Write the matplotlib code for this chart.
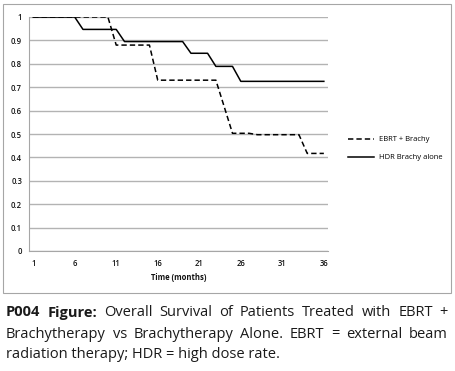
import numpy as np
import matplotlib
matplotlib.use("Agg")
import matplotlib.pyplot as plt
from matplotlib.patches import Rectangle

# data (survival fraction by month)
months = np.arange(1, 37)
ebrt = [1.0, 1.0, 1.0, 1.0, 1.0, 1.0, 1.0, 1.0, 1.0, 1.0,
        0.88, 0.88, 0.88, 0.88, 0.88,
        0.73, 0.73, 0.73, 0.73, 0.73, 0.73, 0.73, 0.73,
        0.617,
        0.503, 0.503, 0.503,
        0.497, 0.497, 0.497, 0.497, 0.497, 0.497,
        0.417, 0.417, 0.417]
hdr = [1.0, 1.0, 1.0, 1.0, 1.0, 1.0,
       0.947, 0.947, 0.947, 0.947, 0.947,
       0.895, 0.895, 0.895, 0.895, 0.895, 0.895, 0.895, 0.895,
       0.845, 0.845, 0.845,
       0.789, 0.789, 0.789,
       0.725, 0.725, 0.725, 0.725, 0.725, 0.725, 0.725, 0.725, 0.725, 0.725, 0.725]
xticks = [1, 6, 11, 16, 21, 26, 31, 36]
yticks = [0, 0.1, 0.2, 0.3, 0.4, 0.5, 0.6, 0.7, 0.8, 0.9, 1.0]
ylabels = ["0", "0.1", "0.2", "0.3", "0.4", "0.5", "0.6", "0.7", "0.8", "0.9", "1"]
labels = ["EBRT + Brachy", "HDR Brachy alone"]

W, H = 456, 371
fig = plt.figure(figsize=(W / 100, H / 100), dpi=100)
fig.patch.set_facecolor("white")

# chart area frame
fig.patches.append(Rectangle((3.5 / W, 1 - 293 / H), 447.5 / W, 289.5 / H,
                             transform=fig.transFigure, fill=False,
                             edgecolor="#a6a6a6", linewidth=0.8))

ax = fig.add_axes([29 / W, 120 / H, 299 / W, 234 / H])
ax.plot(months, ebrt, color="black", linewidth=1.1, linestyle=(0, (3.5, 2)), label=labels[0])
ax.plot(months, hdr, color="black", linewidth=1.1, label=labels[1])

ax.set_xlim(0.5, 36.5)
ax.set_ylim(0, 1)
ax.set_xticks(xticks)
ax.set_yticks(yticks)
ax.set_yticklabels(ylabels)
ax.yaxis.grid(True, color="#b3b3b3", linewidth=1.0)
ax.set_axisbelow(True)
for s in ["top", "right"]:
    ax.spines[s].set_visible(False)
for s in ["left", "bottom"]:
    ax.spines[s].set_color("#a6a6a6")
    ax.spines[s].set_linewidth(0.8)
ax.tick_params(axis="both", length=0, labelsize=5.5, labelcolor="#111111")
ax.tick_params(axis="y", pad=5)
ax.tick_params(axis="x", pad=6)
for t in ax.get_xticklabels() + ax.get_yticklabels():
    t.set_fontfamily("Open Sans")
    t.set_fontweight("semibold")
ax.set_xlabel("Time (months)", fontsize=5.5, fontweight="bold", fontfamily="Open Sans",
              color="#111111", labelpad=3)

ax.legend(loc="upper left", bbox_to_anchor=(348 / W, 1 - 136 / H), bbox_transform=fig.transFigure,
          frameon=False, handlelength=3.4, handletextpad=0.6, labelspacing=1.4,
          borderpad=0, borderaxespad=0, prop={"family": "Open Sans", "size": 5.5})


# justified caption below the chart
def caption_line(words, nbold, ybase, justify=True):
    texts = []
    for i, w in enumerate(words):
        t = fig.text(0, 1 - ybase / H, w, fontsize=10.5, fontfamily="Open Sans",
                     fontweight="bold" if i < nbold else "normal", color="#1a1a1a", va="baseline")
        texts.append(t)
    r = fig.canvas.get_renderer()
    widths = [t.get_window_extent(r).width for t in texts]
    x0, x1 = 6, 448
    gap = (x1 - x0 - sum(widths)) / (len(words) - 1) if justify else 0
    x = x0
    for t, w in zip(texts, widths):
        t.set_x(x / W)
        x += w + gap


caption_line(["P004", "Figure:", "Overall", "Survival", "of", "Patients", "Treated", "with", "EBRT", "+"], 2, 316.5)
caption_line(["Brachytherapy", "vs", "Brachytherapy", "Alone.", "EBRT", "=", "external", "beam"], 0, 337.5)
caption_line(["radiation therapy; HDR = high dose rate."], 0, 358.5, justify=False)

fig.savefig("out.png", dpi=100, facecolor="white")
